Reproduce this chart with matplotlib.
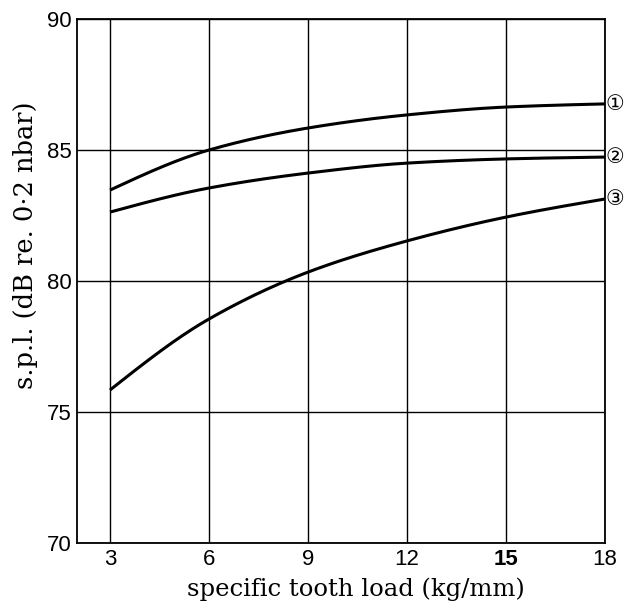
import matplotlib
matplotlib.use("Agg")
import matplotlib.pyplot as plt
import numpy as np

# specific tooth load (kg/mm)
load = [3, 6, 9, 12, 15, 18]

# sound pressure level (dB re. 0.2 nbar) for the three gear configurations
spl_1 = [83.47, 85.0, 85.84, 86.34, 86.64, 86.76]
spl_2 = [82.63, 83.55, 84.12, 84.5, 84.66, 84.73]
spl_3 = [75.84, 78.55, 80.34, 81.53, 82.44, 83.13]
curve_labels = ["①", "②", "③"]

x_ticks = [3, 6, 9, 12, 15, 18]
y_ticks = [70, 75, 80, 85, 90]

fig = plt.figure(figsize=(6.28, 6.07), dpi=100)
ax = fig.add_axes([0.1226, 0.1054, 0.8408, 0.8633])

# smooth the measured points with a monotone cubic through them
def smooth(xs, ys, n=200):
    xs = np.asarray(xs, float)
    ys = np.asarray(ys, float)
    h = np.diff(xs)
    d = np.diff(ys) / h
    m = np.zeros_like(ys)
    m[1:-1] = np.where(d[:-1] * d[1:] > 0, 2 / (1 / d[:-1] + 1 / d[1:]), 0)
    m[0] = d[0] + (d[0] - m[1]) * 0.5
    m[-1] = d[-1] + (d[-1] - m[-2]) * 0.5
    xf = np.linspace(xs[0], xs[-1], n)
    idx = np.clip(np.searchsorted(xs, xf) - 1, 0, len(xs) - 2)
    t = (xf - xs[idx]) / h[idx]
    h00 = 2 * t**3 - 3 * t**2 + 1
    h10 = t**3 - 2 * t**2 + t
    h01 = -2 * t**3 + 3 * t**2
    h11 = t**3 - t**2
    yf = h00 * ys[idx] + h10 * h[idx] * m[idx] + h01 * ys[idx + 1] + h11 * h[idx] * m[idx + 1]
    return xf, yf

for ys, lab in zip([spl_1, spl_2, spl_3], curve_labels):
    xf, yf = smooth(load, ys)
    ax.plot(xf, yf, color="black", lw=2.2, solid_capstyle="butt", zorder=3)
    ax.annotate(lab, xy=(load[-1], ys[-1]), xytext=(0, 0),
                textcoords="offset points", va="center", ha="left",
                fontsize=15, family=["DejaVu Sans", "Noto Sans CJK SC"],
                annotation_clip=False)

ax.set_xlim(2, 18)
ax.set_ylim(70, 90)
ax.set_xticks(x_ticks)
ax.set_yticks(y_ticks)
ax.grid(True, color="black", lw=1.0)
ax.set_axisbelow(True)
ax.tick_params(length=0, pad=4)

tick_family = ["Liberation Sans Narrow", "Liberation Sans", "DejaVu Sans"]
ax.set_xticklabels([str(v) for v in x_ticks], family=tick_family, fontsize=16)
ax.set_yticklabels([str(v) for v in y_ticks], family=tick_family, fontsize=16)
ax.get_xticklabels()[x_ticks.index(15)].set_fontweight("bold")

for s in ax.spines.values():
    s.set_color("black")
    s.set_linewidth(1.3)

ax.set_xlabel("specific tooth load (kg/mm)", family="DejaVu Serif", fontsize=17.5)
ax.set_ylabel("s.p.l. (dB re. 0·2 nbar)", family="DejaVu Serif", fontsize=18.5)
ax.xaxis.set_label_coords(0.528, -0.066)
ax.yaxis.set_label_coords(-0.074, 0.569)

fig.savefig("out.png", dpi=100)
